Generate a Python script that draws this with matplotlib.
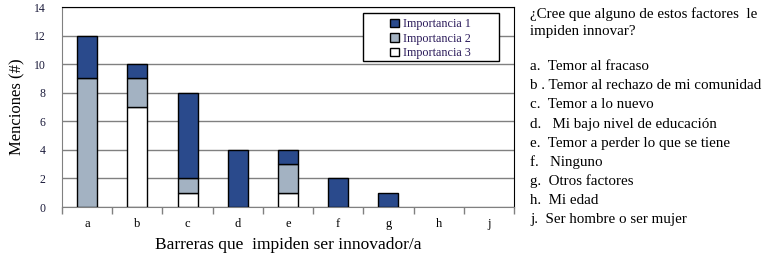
import numpy as np
import matplotlib.pyplot as plt
from matplotlib.patches import Rectangle

# data
categorias = ['a', 'b', 'c', 'd', 'e', 'f', 'g', 'h', 'j']
imp3 = [0, 7, 1, 0, 1, 0, 0, 0, 0]
imp2 = [9, 2, 1, 0, 2, 0, 0, 0, 0]
imp1 = [3, 1, 6, 4, 1, 2, 1, 0, 0]
y_ticks = [0, 2, 4, 6, 8, 10, 12, 14]

pregunta = ['¿Cree que alguno de estos factores  le', 'impiden innovar?']
opciones = ['a.  Temor al fracaso',
            'b . Temor al rechazo de mi comunidad',
            'c.  Temor a lo nuevo',
            'd.   Mi bajo nivel de educación',
            'e.  Temor a perder lo que se tiene',
            'f.   Ninguno',
            'g.  Otros factores',
            'h.  Mi edad',
            'j.  Ser hombre o ser mujer']

plt.rcParams['font.family'] = ['Liberation Serif', 'DejaVu Serif']

fig = plt.figure(figsize=(7.66, 2.57), dpi=100)
ax = fig.add_axes([62/766, 50/257, 452/766, 200/257])

x = np.arange(len(categorias))
w = 0.4
c1, c2, c3 = '#2a4a8c', '#a3b2c2', 'white'


def stack(vals, bottom, color, label):
    vals = np.array(vals)
    bottom = np.array(bottom)
    m = vals > 0
    ax.bar(x[m], vals[m], w, bottom=bottom[m], color=color, edgecolor='black',
           linewidth=1, label=label, zorder=3)


zeros = np.zeros(len(categorias))
stack(imp3, zeros, c3, 'Importancia 3')
stack(imp2, np.array(imp3), c2, 'Importancia 2')
stack(imp1, np.array(imp3) + np.array(imp2), c1, 'Importancia 1')

ax.set_xlim(-0.5, len(categorias) - 0.5)
ax.set_ylim(0, 14)
ax.set_yticks(y_ticks)
ax.set_xticks(x)
ax.set_xticklabels(categorias)
ax.tick_params(axis='x', length=0, pad=8, labelsize=9)
ax.tick_params(axis='y', length=0, pad=12, labelsize=8.5, labelcolor='#1a1a3a')
# category boundary ticks
ax.set_xticks(np.arange(-0.5, len(categorias)), minor=True)
ax.tick_params(axis='x', which='minor', length=5, color='#808080', width=1)

ax.grid(axis='y', color='#808080', linewidth=1, zorder=0)
ax.spines['left'].set_color('#808080')
ax.spines['bottom'].set_color('#808080')
ax.spines['top'].set_color('black')
ax.spines['right'].set_color('black')

ax.set_ylabel('Menciones (#)', fontsize=12, labelpad=6)
ax.set_xlabel('Barreras que  impiden ser innovador/a', fontsize=12.5, labelpad=5)

# legend box drawn separately (wide frame in the original)
ax.add_patch(Rectangle((0.666, 0.73), 0.301, 0.24, transform=ax.transAxes,
                       facecolor='white', edgecolor='black', linewidth=1, zorder=4))
handles, labels = ax.get_legend_handles_labels()
leg = ax.legend(handles[::-1], labels[::-1], loc='upper left', bbox_to_anchor=(0.726, 0.945),
                fontsize=8.7, frameon=False,
                handlelength=0.7, handleheight=0.7, handletextpad=0.35,
                labelspacing=0.22, borderpad=0, borderaxespad=0,
                labelcolor='#2a1a5a')
leg.set_zorder(5)

fig.text(530/766, 1 - 14/257, pregunta[0], fontsize=10.8, va='center', ha='left')
fig.text(530/766, 1 - 31/257, pregunta[1], fontsize=10.8, va='center', ha='left')
ys = [66, 86, 104, 124, 143, 162, 181, 200, 219]
for t, yy in zip(opciones, ys):
    fig.text(530/766, 1 - yy/257, t, fontsize=10.8, va='center', ha='left')

fig.savefig('out.png', dpi=100)
